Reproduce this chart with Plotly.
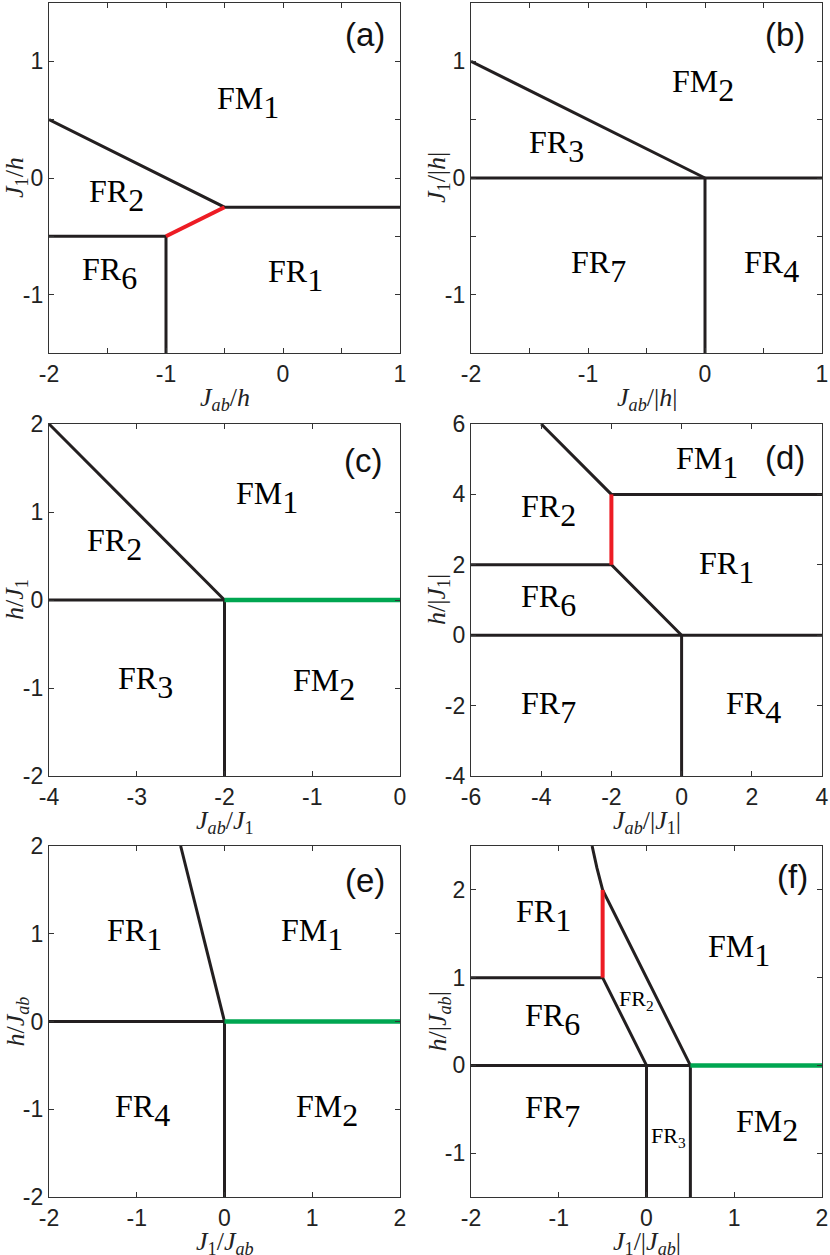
import plotly.graph_objects as go

# ---------------- data (boundaries of phase regions) ----------------
a_black_x = [-2, -0.5, 1, None, -2, -1, -1]
a_black_y = [0.5, -0.25, -0.25, None, -0.5, -0.5, -1.5]
a_red_x = [-1, -0.5]
a_red_y = [-0.5, -0.25]

b_black_x = [-2, 0, None, -2, 1, None, 0, 0]
b_black_y = [1, 0, None, 0, 0, None, 0, -1.5]

c_black_x = [-4, -2, None, -4, -2, -2]
c_black_y = [2, 0, None, 0, 0, -2]
c_green_x = [-2, 0]
c_green_y = [0, 0]

d_black_x = [-4, -2, 4, None, -6, -2, 0, None, -6, 4, None, 0, 0]
d_black_y = [6, 4, 4, None, 2, 2, 0, None, 0, 0, None, 0, -4]
d_red_x = [-2, -2]
d_red_y = [4, 2]

e_black_x = [-0.5, 0, None, -2, 0, 0]
e_black_y = [2, 0, None, 0, 0, -2]
e_green_x = [0, 2]
e_green_y = [0, 0]

f_black_x = [-0.62, -0.565, -0.5, 0.5, None, -2, -0.5, 0, None, -2, 0.5, 0.5, None, 0, 0]
f_black_y = [2.5, 2.25, 2, 0, None, 1, 1, 0, None, 0, 0, -1.5, None, 0, -1.5]
f_red_x = [-0.5, -0.5]
f_red_y = [2, 1]
f_green_x = [0.5, 2]
f_green_y = [0, 0]

# region labels: (name, subscript, x, y, small)
a_labels = [("FM", "1", -0.30, 0.65, False), ("FR", "2", -1.42, -0.15, False),
            ("FR", "6", -1.48, -0.82, False), ("FR", "1", 0.11, -0.84, False)]
b_labels = [("FM", "2", -0.02, 0.79, False), ("FR", "3", -1.27, 0.27, False),
            ("FR", "7", -0.91, -0.76, False), ("FR", "4", 0.57, -0.76, False)]
c_labels = [("FM", "1", -1.52, 1.17, False), ("FR", "2", -3.25, 0.63, False),
            ("FR", "3", -2.9, -0.94, False), ("FM", "2", -0.87, -0.96, False)]
d_labels = [("FM", "1", 0.72, 4.92, False), ("FR", "2", -3.78, 3.55, False),
            ("FR", "1", 1.29, 1.93, False), ("FR", "6", -3.78, 0.99, False),
            ("FR", "7", -3.78, -2.06, False), ("FR", "4", 2.06, -2.06, False)]
e_labels = [("FR", "1", -1.03, 0.99, False), ("FM", "1", 1.0, 0.99, False),
            ("FR", "4", -0.94, -1.01, False), ("FM", "2", 1.17, -1.01, False)]
f_labels = [("FR", "1", -1.17, 1.71, False), ("FM", "1", 1.05, 1.31, False),
            ("FR", "2", -0.11, 0.745, True), ("FR", "6", -1.07, 0.52, False),
            ("FR", "7", -1.07, -0.52, False), ("FR", "3", 0.245, -0.82, True),
            ("FM", "2", 1.37, -0.68, False)]

panel_letters = ["(a)", "(b)", "(c)", "(d)", "(e)", "(f)"]
panel_letter_pos = [(0.70, 1.23), (0.68, 1.23), (-0.42, 1.59), (2.95, 5.06), (1.6, 1.61), (1.66, 2.15)]

x_ranges = [[-2, 1], [-2, 1], [-4, 0], [-6, 4], [-2, 2], [-2, 2]]
y_ranges = [[-1.5, 1.5], [-1.5, 1.5], [-2, 2], [-4, 6], [-2, 2], [-1.5, 2.5]]

x_tickvals = [[-2, -1, 0, 1], [-2, -1, 0, 1], [-4, -3, -2, -1, 0], [-6, -4, -2, 0, 2, 4],
              [-2, -1, 0, 1, 2], [-2, -1, 0, 1, 2]]
y_tickvals = [[-1, 0, 1], [-1, 0, 1], [-2, -1, 0, 1, 2], [-4, -2, 0, 2, 4, 6],
              [-2, -1, 0, 1, 2], [-1, 0, 1, 2]]
minor_step = [0.5, 0.5, None, None, None, None]

x_titles = ["<i>J</i><sub><i>ab</i></sub>/<i>h</i>",
            "<i>J</i><sub><i>ab</i></sub>/|<i>h</i>|",
            "<i>J</i><sub><i>ab</i></sub>/<i>J</i><sub>1</sub>",
            "<i>J</i><sub><i>ab</i></sub>/|<i>J</i><sub>1</sub>|",
            "<i>J</i><sub>1</sub>/<i>J</i><sub><i>ab</i></sub>",
            "<i>J</i><sub>1</sub>/|<i>J</i><sub><i>ab</i></sub>|"]
y_titles = ["<i>J</i><sub>1</sub>/<i>h</i>",
            "<i>J</i><sub>1</sub>/|<i>h</i>|",
            "<i>h</i>/<i>J</i><sub>1</sub>",
            "<i>h</i>/|<i>J</i><sub>1</sub>|",
            "<i>h</i>/<i>J</i><sub><i>ab</i></sub>",
            "<i>h</i>/|<i>J</i><sub><i>ab</i></sub>|"]


def fmt(v):
    # plain hyphen-minus, as in the reference
    return ("-" if v < 0 else "") + f"{abs(v):g}"


# ---------------- layout geometry ----------------
W, H = 830, 1255
col_px = [(49, 400), (471, 822)]
row_px = [(3, 353), (424, 776), (846, 1197)]

BLACK = "#231f20"
RED = "#ed1c24"
GREEN = "#00a651"
AXC = "#333333"
SERIF = "Liberation Serif"
SANS = "Liberation Sans"

fig = go.Figure()

series = [
    [(a_black_x, a_black_y, BLACK, 3), (a_red_x, a_red_y, RED, 4)],
    [(b_black_x, b_black_y, BLACK, 3)],
    [(c_black_x, c_black_y, BLACK, 3), (c_green_x, c_green_y, GREEN, 4.5)],
    [(d_black_x, d_black_y, BLACK, 3), (d_red_x, d_red_y, RED, 4)],
    [(e_black_x, e_black_y, BLACK, 3), (e_green_x, e_green_y, GREEN, 4.5)],
    [(f_black_x, f_black_y, BLACK, 3), (f_red_x, f_red_y, RED, 4), (f_green_x, f_green_y, GREEN, 4.5)],
]
all_labels = [a_labels, b_labels, c_labels, d_labels, e_labels, f_labels]

annotations = []
layout_axes = {}
for i in range(6):
    r, c = divmod(i, 2)
    n = "" if i == 0 else str(i + 1)
    xa, ya = "x" + n, "y" + n
    x0, x1 = col_px[c]
    y0, y1 = row_px[r]
    common = dict(showline=True, linecolor=AXC, linewidth=1.3, mirror="ticks", ticks="inside",
                  ticklen=5, tickwidth=1.2, tickcolor=AXC, showgrid=False, zeroline=False,
                  tickfont=dict(family=SANS, size=23, color="#222222"),
                  fixedrange=True, automargin=False)
    if minor_step[i]:
        common["minor"] = dict(ticks="inside", dtick=minor_step[i], ticklen=5, tickwidth=1.2,
                               tickcolor=AXC, showgrid=False)
    layout_axes["xaxis" + n] = dict(common, domain=[x0 / W, x1 / W], range=x_ranges[i], anchor=ya,
                                    tickmode="array", tickvals=x_tickvals[i],
                                    ticktext=[fmt(v) for v in x_tickvals[i]])
    layout_axes["yaxis" + n] = dict(common, domain=[1 - y1 / H, 1 - y0 / H], range=y_ranges[i], anchor=xa,
                                    tickmode="array", tickvals=y_tickvals[i],
                                    ticktext=[fmt(v) for v in y_tickvals[i]])
    for (xs, ys, col, w) in series[i]:
        fig.add_trace(go.Scatter(x=xs, y=ys, mode="lines", line=dict(color=col, width=w),
                                 xaxis=xa, yaxis=ya, showlegend=False, hoverinfo="skip",
                                 cliponaxis=False))
    for (base, sub, lx, ly, small) in all_labels[i]:
        if small:
            txt = f"{base}<sub>{sub}</sub>"
            fs = 22
        else:
            txt = f"{base}<span style='baseline-shift:-0.27em'>{sub}</span>"
            fs = 32
        annotations.append(dict(x=lx, y=ly, xref=xa, yref=ya, text=txt, showarrow=False,
                                xanchor="center", yanchor="middle",
                                font=dict(family=SERIF, size=fs, color="#000000")))
    px_, py_ = panel_letter_pos[i]
    annotations.append(dict(x=px_, y=py_, xref=xa, yref=ya, text=panel_letters[i], showarrow=False,
                            xanchor="center", yanchor="middle",
                            font=dict(family=SANS, size=33, color="#111111")))
    # axis titles
    annotations.append(dict(x=(x0 + x1) / 2 / W, y=1 - (y1 + 46) / H, xref="paper", yref="paper",
                            text=x_titles[i], showarrow=False, xanchor="center", yanchor="middle",
                            font=dict(family=SERIF, size=26, color="#222222")))
    annotations.append(dict(x=(x0 - 33) / W, y=1 - (y0 + y1) / 2 / H, xref="paper", yref="paper",
                            text=y_titles[i], showarrow=False, xanchor="center", yanchor="middle",
                            textangle=-90,
                            font=dict(family=SERIF, size=26, color="#222222")))

fig.update_layout(width=W, height=H, margin=dict(l=0, r=0, t=0, b=0, autoexpand=False),
                  paper_bgcolor="white", plot_bgcolor="white",
                  annotations=annotations, **layout_axes)

fig.write_html("out.html", config={"displayModeBar": False},
               post_script="document.body.style.margin='0';document.body.style.overflow='hidden';")
